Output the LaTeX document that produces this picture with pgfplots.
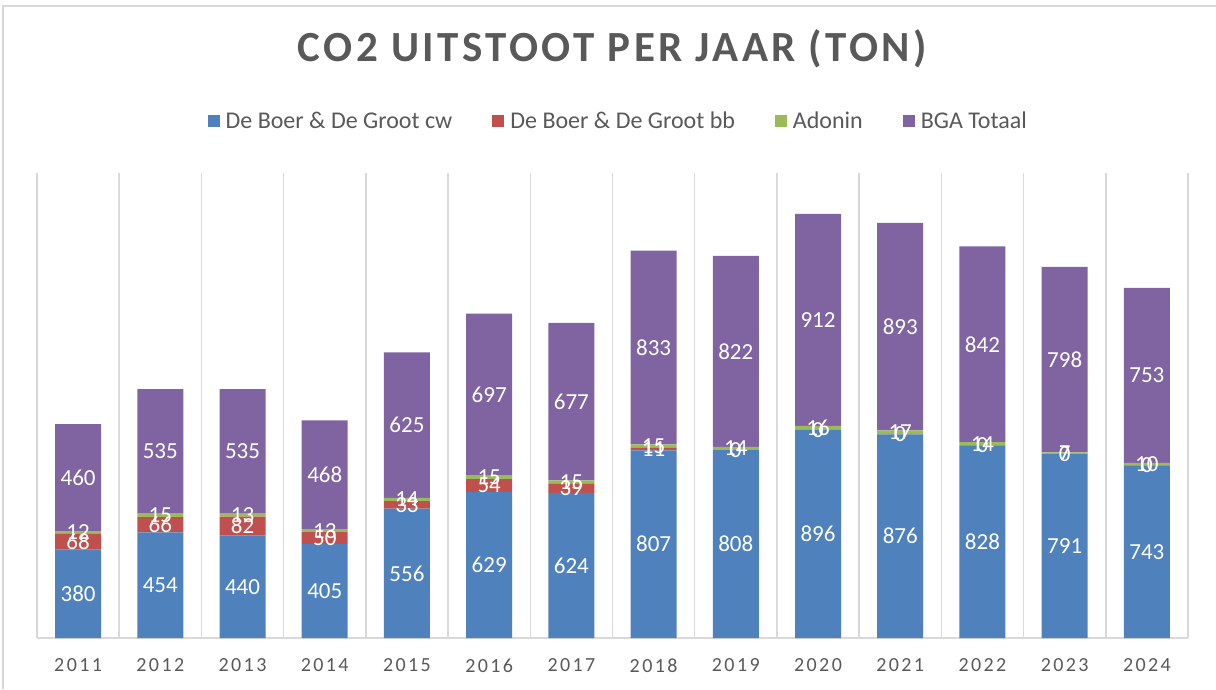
\documentclass[border=0pt]{standalone}
\usepackage{fontspec}
\setmainfont{Carlito}
\usepackage{pgfplots}
\usepackage{pgfplotstable}
\pgfplotsset{compat=1.18}
\definecolor{cwblue}{RGB}{79,129,189}
\definecolor{bbred}{RGB}{192,80,77}
\definecolor{adgreen}{RGB}{155,187,89}
\definecolor{bgapurple}{RGB}{128,100,162}
\definecolor{gridgray}{RGB}{217,217,217}
\definecolor{textgray}{RGB}{89,89,89}
% bby: bar height used for drawing (tiny for zero values so the "0" label is still drawn)
\pgfplotstableread{
idx cw bb bby ad bga
0 380 68 68 12 460
1 454 66 66 15 535
2 440 82 82 13 535
3 405 50 50 13 468
4 556 33 33 14 625
5 629 54 54 15 697
6 624 39 39 15 677
7 807 11 11 15 833
8 808 0 0.01 14 822
9 896 0 0.01 16 912
10 876 0 0.01 17 893
11 828 0 0.01 14 842
12 791 0 0.01 7 798
13 743 0 0.01 10 753
}\data
\pgfplotsset{
  seg/.style={fill=#1, draw=none,
    legend image code/.code={\fill[#1] (0pt,-6pt) rectangle (12pt,6pt);}},
  lbl/.style={point meta=\thisrow{#1}},
}
\begin{document}
\begin{tikzpicture}[x=1pt,y=1pt]
\useasboundingbox (0,0) rectangle (1216,689);
\draw[gridgray, line width=1.5pt] (3,0) -- (3,683) -- (1216,683);
\begin{axis}[
  at={(37pt,51pt)}, anchor=south west,
  scale only axis, width=1151pt, height=465pt,
  ymin=0, ymax=2000, xmin=-0.5, xmax=13.5,
  ybar stacked, bar width=46pt,
  axis y line=none, axis x line*=bottom,
  x axis line style={gridgray, line width=1.5pt},
  xtick={0,...,13},
  xticklabels={2011,2012,2013,2014,2015,2016,2017,2018,2019,2020,2021,2022,2023,2024},
  major tick length=0pt, minor tick length=0pt,
  minor xtick={-0.5,0.5,...,13.5},
  xminorgrids, minor grid style={gridgray, line width=1.5pt},
  xticklabel style={font=\fontsize{20}{24}\selectfont\addfontfeature{LetterSpace=12}, text=textgray, yshift=-17pt},
  /pgf/number format/assume math mode=true,
  nodes near coords, nodes near coords align=center,
  every node near coord/.append style={font=\fontsize{23}{26}\selectfont, text=white, anchor=center},
  title={CO2 UITSTOOT PER JAAR (TON)},
  title style={at={(0.5,1)}, anchor=center, yshift=118pt, font=\fontsize{43}{50}\selectfont\bfseries\addfontfeature{LetterSpace=8}, text=textgray},
  legend style={at={(0.505,1.112)}, anchor=center, draw=none, font=\fontsize{24}{28}\selectfont, text=textgray,
    /tikz/every even column/.append style={column sep=38pt},
    /tikz/every odd column/.append style={column sep=4pt}},
  legend columns=-1,
]
\addplot[seg=cwblue, lbl=cw] table[x=idx, y=cw]{\data};
\addplot[seg=bbred, lbl=bb] table[x=idx, y=bby]{\data};
\addplot[seg=adgreen, lbl=ad] table[x=idx, y=ad]{\data};
\addplot[seg=bgapurple, lbl=bga] table[x=idx, y=bga]{\data};
\legend{De Boer \& De Groot cw, De Boer \& De Groot bb, Adonin, BGA Totaal}
\end{axis}
\end{tikzpicture}
\end{document}
